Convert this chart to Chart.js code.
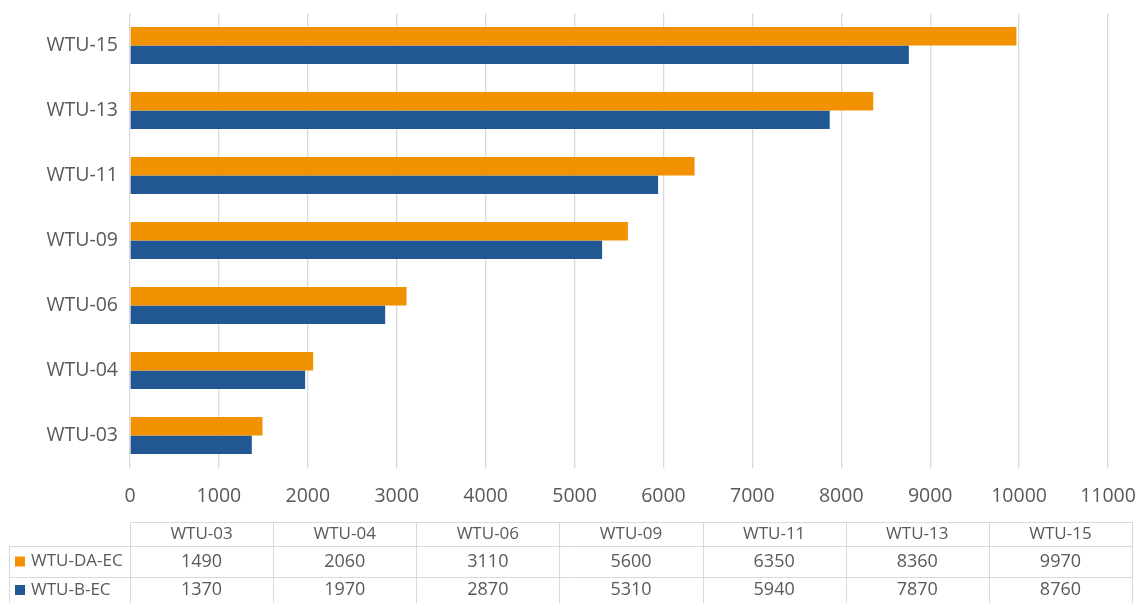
<!DOCTYPE html>
<html>
<head>
<meta charset="utf-8">
<script src="https://cdn.jsdelivr.net/npm/chart.js@4"></script>
<style>
  html, body { margin: 0; padding: 0; background: #fff; }
  #wrap { width: 1138px; height: 603px; position: relative; }
</style>
</head>
<body>
<div id="wrap"><canvas id="chart"></canvas></div>
<script>
const categories = ['WTU-03', 'WTU-04', 'WTU-06', 'WTU-09', 'WTU-11', 'WTU-13', 'WTU-15'];
const daValues = [1490, 2060, 3110, 5600, 6350, 8360, 9970];
const bValues = [1370, 1970, 2870, 5310, 5940, 7870, 8760];
const seriesNames = ['WTU-DA-EC', 'WTU-B-EC'];
const seriesColors = ['#F39200', '#215893'];

const textColor = '#595959';
const gridColor = '#d9d9d9';
const fontFamily = '"Open Sans", "Noto Sans", sans-serif';

// data table under the plot, built from the same arrays
const dataTable = {
    id: 'dataTable',
    afterDraw(chart) {
        const { ctx, data } = chart;
        const left = 130, right = 1132, legendLeft = 9;
        const rows = [522, 546, 577, 608];
        const colW = (right - left) / data.labels.length;

        ctx.save();
        ctx.strokeStyle = gridColor;
        ctx.lineWidth = 1;
        ctx.beginPath();
        ctx.moveTo(left, rows[0] + 0.5); ctx.lineTo(right, rows[0] + 0.5);
        ctx.moveTo(legendLeft, rows[1] + 0.5); ctx.lineTo(right, rows[1] + 0.5);
        ctx.moveTo(legendLeft, rows[2] + 0.5); ctx.lineTo(right, rows[2] + 0.5);
        ctx.moveTo(legendLeft + 0.5, rows[1]); ctx.lineTo(legendLeft + 0.5, rows[3]);
        for (let i = 0; i <= data.labels.length; i++) {
            const x = Math.round(left + i * colW) + 0.5;
            ctx.moveTo(x, rows[0]); ctx.lineTo(x, rows[3]);
        }
        ctx.stroke();

        ctx.fillStyle = textColor;
        ctx.font = '17px ' + fontFamily;
        ctx.textAlign = 'center';
        ctx.textBaseline = 'middle';
        data.labels.forEach((lab, i) => {
            ctx.fillText(lab, left + (i + 0.5) * colW, (rows[0] + rows[1]) / 2);
        });
        data.datasets.forEach((ds, r) => {
            const cy = (rows[r + 1] + Math.min(rows[r + 2], 603)) / 2;
            ctx.font = '18px ' + fontFamily;
            ds.data.forEach((v, i) => {
                ctx.fillText(String(v), left + (i + 0.5) * colW, cy);
            });
            ctx.fillStyle = ds.backgroundColor;
            ctx.fillRect(15, cy - 5, 10, 10);
            ctx.fillStyle = textColor;
            ctx.font = '17px ' + fontFamily;
            ctx.textAlign = 'left';
            ctx.fillText(ds.label, 31, cy);
            ctx.textAlign = 'center';
        });
        ctx.restore();
    }
};

new Chart(document.getElementById('chart').getContext('2d'), {
    type: 'bar',
    data: {
        labels: categories,
        datasets: [
            { label: seriesNames[0], data: daValues, backgroundColor: seriesColors[0] },
            { label: seriesNames[1], data: bValues, backgroundColor: seriesColors[1] }
        ]
    },
    options: {
        indexAxis: 'y',
        responsive: true,
        maintainAspectRatio: false,
        animation: false,
        layout: { padding: { top: 13, right: 30, bottom: 90, left: 0 } },
        datasets: {
            bar: { categoryPercentage: 0.57, barPercentage: 1.0, borderWidth: 0 }
        },
        scales: {
            x: {
                min: 0,
                max: 11000,
                ticks: {
                    stepSize: 1000,
                    color: textColor,
                    font: { family: fontFamily, size: 19.5 },
                    padding: 17,
                    maxRotation: 0,
                    callback: v => String(v)
                },
                grid: { color: gridColor, lineWidth: 1.3, drawTicks: false },
                border: { display: false },
                afterFit(scale) {
                    scale.height = 45;
                    scale.paddingLeft = 0;
                    scale.paddingRight = 0;
                }
            },
            y: {
                reverse: true,
                ticks: {
                    color: textColor,
                    font: { family: fontFamily, size: 19.5 },
                    padding: 12
                },
                grid: { display: false, drawTicks: false },
                border: { display: false },
                afterFit(scale) {
                    scale.width = 130;
                    scale.paddingTop = 0;
                    scale.paddingBottom = 0;
                }
            }
        },
        plugins: {
            legend: { display: false },
            tooltip: { enabled: false }
        }
    },
    plugins: [dataTable]
});
</script>
</body>
</html>
